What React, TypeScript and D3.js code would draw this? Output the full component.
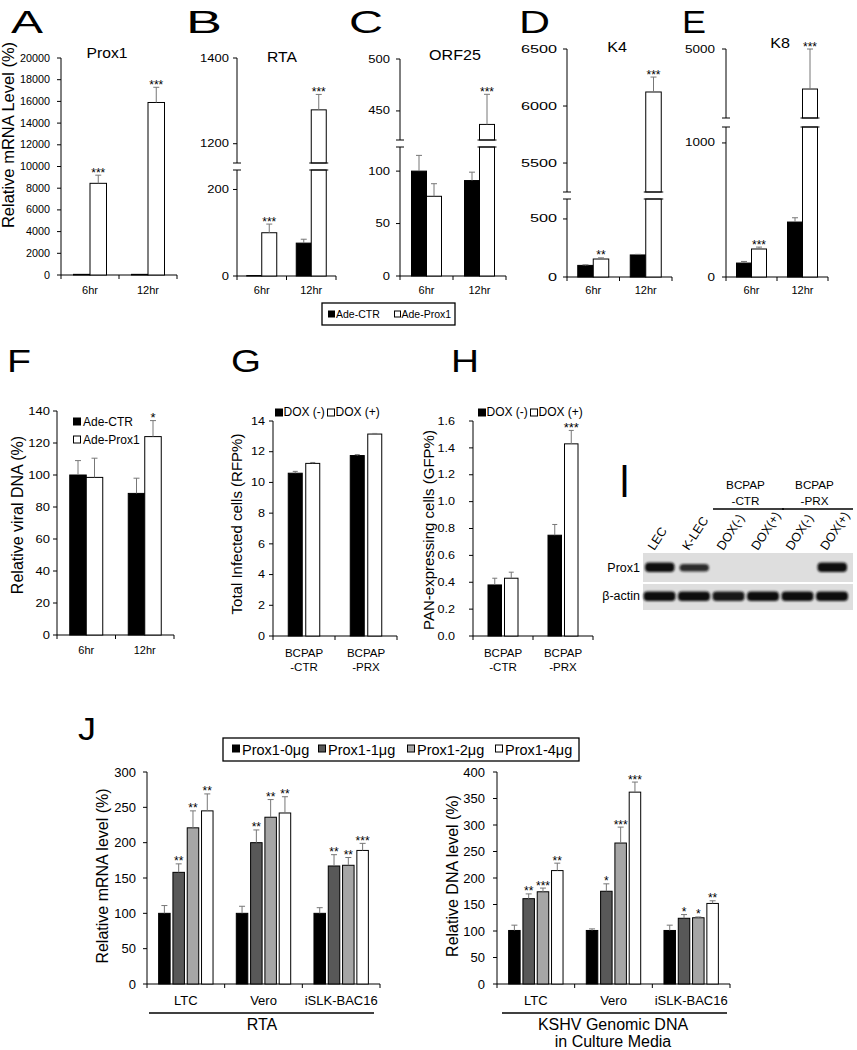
import React from 'react';
import * as d3 from 'd3';

const FONT = "'Liberation Sans', Arial, Helvetica, sans-serif";

// ---------- Top row (A–E) ----------
const timeCats = ['6hr', '12hr'];
const adeSeries = ['Ade-CTR', 'Ade-Prox1'];

const prox1Ctr = [60, 60];
const prox1CtrErr = [0, 0];
const prox1Prox = [8450, 15900];
const prox1ProxErr = [750, 1400];
const prox1Stars = ['***', '***'];

const rtaCtr = [1, 76];
const rtaCtrErr = [0, 9];
const rtaProx = [100, 1279];
const rtaProxErr = [20, 36];
const rtaStars = ['***', '***'];

const orfCtr = [100, 91];
const orfCtrErr = [15, 8];
const orfProx = [76, 437];
const orfProxErr = [12, 29];
const orfStars = ['', '***'];

const k4Ctr = [100, 190];
const k4CtrErr = [5, 5];
const k4Prox = [155, 6123];
const k4ProxErr = [10, 131];
const k4Stars = ['**', '***'];

const k8Ctr = [104, 410];
const k8CtrErr = [12, 32];
const k8Prox = [209, 4710];
const k8ProxErr = [14, 290];
const k8Stars = ['***', '***'];

// ---------- F ----------
const fCtr = [100, 88.5];
const fCtrErr = [9, 9.5];
const fProx = [98.5, 124];
const fProxErr = [12, 10];
const fStars = ['', '*'];

// ---------- G / H ----------
const bcpapCats = ['BCPAP\n-CTR', 'BCPAP\n-PRX'];
const doxSeries = ['DOX (-)', 'DOX (+)'];
const gNeg = [10.6, 11.75];
const gNegErr = [0.12, 0.06];
const gPos = [11.24, 13.15];
const gPosErr = [0.06, 0.04];
const hNeg = [0.38, 0.75];
const hNegErr = [0.05, 0.08];
const hPos = [0.43, 1.43];
const hPosErr = [0.045, 0.1];
const hStars = ['', '***'];

// ---------- I (western blot) ----------
const blotLanes = ['LEC', 'K-LEC', 'DOX(-)', 'DOX(+)', 'DOX(-)', 'DOX(+)'];
const blotGroups = ['BCPAP\n-CTR', 'BCPAP\n-PRX'];
const prox1Band = [1, 0.85, 0, 0, 0, 1];
const actinBand = [1, 1, 0.95, 1, 1, 1];

// ---------- J ----------
const jCats = ['LTC', 'Vero', 'iSLK-BAC16'];
const jSeries = ['Prox1-0\u03bcg', 'Prox1-1\u03bcg', 'Prox1-2\u03bcg', 'Prox1-4\u03bcg'];
const rtaP0 = [100, 100, 100];
const rtaP0Err = [11, 10, 8];
const rtaP1 = [158, 200, 167];
const rtaP1Err = [12, 18, 16];
const rtaP2 = [221, 236, 168];
const rtaP2Err = [24, 25, 11];
const rtaP4 = [245, 242, 189];
const rtaP4Err = [24, 23, 10];
const rtaP1Stars = ['**', '**', '**'];
const rtaP2Stars = ['**', '**', '**'];
const rtaP4Stars = ['**', '**', '***'];

const dnaP0 = [101, 101, 101];
const dnaP0Err = [10, 3, 10];
const dnaP1 = [161, 175, 124];
const dnaP1Err = [9, 14, 7];
const dnaP2 = [174, 266, 125];
const dnaP2Err = [7, 30, 1.5];
const dnaP4 = [214, 362, 152];
const dnaP4Err = [14, 19, 5];
const dnaP1Stars = ['**', '*', '*'];
const dnaP2Stars = ['***', '***', '*'];
const dnaP4Stars = ['**', '***', '**'];

const none3 = ['', '', ''];
const none2 = ['', ''];

// ---------------------------------------------------------
type TxtProps = {
  x: number; y: number; size: number; sx?: number; anchor?: string; rotate?: number;
  children: React.ReactNode; weight?: string | number; fill?: string;
};
function Txt({ x, y, size, sx = 1, anchor = 'start', rotate = 0, children, weight, fill = '#000' }: TxtProps) {
  return (
    <text
      transform={`translate(${x},${y}) scale(${sx},1)${rotate ? ` rotate(${rotate})` : ''}`}
      fontSize={size}
      textAnchor={anchor as any}
      fontFamily={FONT}
      fill={fill}
      fontWeight={weight as any}
    >
      {children}
    </text>
  );
}

type Seg = { d: [number, number]; r: [number, number]; ticks: number[] };
type SeriesDef = { values: number[]; errs: number[]; stars: string[]; fill: string };
type PanelProps = {
  left: number; right: number; base: number; segs: Seg[]; cats: string[]; series: SeriesDef[];
  barW: number; gap: number; tickFont: number; tickSx: number; tickGap: number; fmt: (v: number) => string;
  catFont: number; catY: number; catLineH?: number; starFont: number; capW: number; catSx?: number;
};

function BarPanel(p: PanelProps) {
  const lower = d3.scaleLinear().domain(p.segs[0].d).range(p.segs[0].r);
  const upper = p.segs[1] ? d3.scaleLinear().domain(p.segs[1].d).range(p.segs[1].r) : null;
  const lowMax = p.segs[0].d[1];
  const yOf = (v: number) => (!upper || v <= lowMax ? lower(v) : upper(v));
  const x = d3.scaleBand().domain(p.cats).range([p.left, p.right]);
  const n = p.series.length;
  const groupW = n * p.barW + (n - 1) * p.gap;
  const bounds = p.cats.map((c) => x(c) as number).concat([p.right]);
  const els: React.ReactNode[] = [];
  const gapTop = p.segs[0].r[1];
  const gapBot = upper ? p.segs[1].r[0] : 0;

  p.segs.forEach((s, si) => {
    els.push(<line key={`ax${si}`} x1={p.left} x2={p.left} y1={s.r[0]} y2={s.r[1]} stroke="#000" strokeWidth={1} />);
    const sc = d3.scaleLinear().domain(s.d).range(s.r);
    s.ticks.forEach((t, ti) => {
      const y = sc(t);
      els.push(<line key={`tk${si}_${ti}`} x1={p.left - 4} x2={p.left} y1={y} y2={y} stroke="#000" strokeWidth={1} />);
      els.push(
        <Txt key={`tl${si}_${ti}`} x={p.left - p.tickGap} y={y + p.tickFont * 0.35} size={p.tickFont} sx={p.tickSx} anchor="end">
          {p.fmt(t)}
        </Txt>
      );
    });
  });
  if (upper) {
    [gapTop, gapBot].forEach((y, i) =>
      els.push(<line key={`brk${i}`} x1={p.left - 4} x2={p.left + 4} y1={y} y2={y} stroke="#000" strokeWidth={1} />)
    );
  }
  els.push(<line key="xax" x1={p.left} x2={p.right} y1={p.base} y2={p.base} stroke="#000" strokeWidth={1} />);
  bounds.forEach((b, i) =>
    els.push(<line key={`xt${i}`} x1={b} x2={b} y1={p.base} y2={p.base + 4} stroke="#000" strokeWidth={1} />)
  );

  p.cats.forEach((c, ci) => {
    const cx = (x(c) as number) + x.bandwidth() / 2;
    p.series.forEach((s, si) => {
      const v = s.values[ci];
      const bx = cx - groupW / 2 + si * (p.barW + p.gap);
      const k = `b${ci}_${si}`;
      if (upper && v > lowMax) {
        els.push(<rect key={k + 'l'} x={bx} y={gapTop} width={p.barW} height={p.base - gapTop} fill={s.fill} stroke="#000" strokeWidth={1} />);
        els.push(<rect key={k + 'u'} x={bx} y={upper(v)} width={p.barW} height={gapBot - upper(v)} fill={s.fill} stroke="#000" strokeWidth={1} />);
        els.push(<line key={k + 'g1'} x1={bx - 2} x2={bx + p.barW + 2} y1={gapTop} y2={gapTop} stroke="#000" strokeWidth={1} />);
        els.push(<line key={k + 'g2'} x1={bx - 2} x2={bx + p.barW + 2} y1={gapBot} y2={gapBot} stroke="#000" strokeWidth={1} />);
      } else {
        const y = yOf(v);
        els.push(<rect key={k} x={bx} y={y} width={p.barW} height={Math.max(0, p.base - y)} fill={s.fill} stroke="#000" strokeWidth={1} />);
      }
      const e = s.errs[ci];
      const ex = bx + p.barW / 2;
      const yTop = yOf(v + e);
      if (e > 0) {
        els.push(<line key={k + 'e'} x1={ex} x2={ex} y1={yOf(v)} y2={yTop} stroke="#777" strokeWidth={1} />);
        els.push(<line key={k + 'c'} x1={ex - p.capW} x2={ex + p.capW} y1={yTop} y2={yTop} stroke="#777" strokeWidth={1} />);
      }
      if (s.stars[ci]) {
        els.push(
          <Txt key={k + 's'} x={ex} y={yTop + 1.5} size={p.starFont} anchor="middle">
            {s.stars[ci]}
          </Txt>
        );
      }
    });
    const lines = c.split('\n');
    lines.forEach((ln, li) =>
      els.push(
        <Txt key={`cl${ci}_${li}`} x={cx} y={p.catY + li * (p.catLineH || 14)} size={p.catFont} sx={p.catSx || 1} anchor="middle">
          {ln}
        </Txt>
      )
    );
  });
  return <g>{els}</g>;
}

function Letter({ x, y, ch, w, size = 32, weight }: { x: number; y: number; ch: string; w: number; size?: number; weight?: string }) {
  return (
    <text x={x} y={y} fontSize={size} fontFamily={FONT} fontWeight={weight as any} textLength={w} lengthAdjust="spacingAndGlyphs">
      {ch}
    </text>
  );
}

function Square({ x, y, s, fill }: { x: number; y: number; s: number; fill: string }) {
  return <rect x={x} y={y} width={s} height={s} fill={fill} stroke="#000" strokeWidth={1} />;
}

const fmtInt = (v: number) => d3.format('d')(v);
const fmt1 = (v: number) => d3.format('.1f')(v);

export default function App() {
  const ade = (ctr: number[], ctrE: number[], prox: number[], proxE: number[], stars: string[]): SeriesDef[] => [
    { values: ctr, errs: ctrE, stars: none2, fill: '#000' },
    { values: prox, errs: proxE, stars, fill: '#fff' },
  ];
  const topCommon = { base: 276, cats: timeCats, barW: 15.5, gap: 0, tickFont: 10, tickGap: 10, fmt: fmtInt, catFont: 11, catY: 294, starFont: 12, capW: 3 };

  const jColors = ['#000', '#585858', '#a6a6a6', '#fff'];
  const rtaSeries: SeriesDef[] = [
    { values: rtaP0, errs: rtaP0Err, stars: none3, fill: jColors[0] },
    { values: rtaP1, errs: rtaP1Err, stars: rtaP1Stars, fill: jColors[1] },
    { values: rtaP2, errs: rtaP2Err, stars: rtaP2Stars, fill: jColors[2] },
    { values: rtaP4, errs: rtaP4Err, stars: rtaP4Stars, fill: jColors[3] },
  ];
  const dnaSeries: SeriesDef[] = [
    { values: dnaP0, errs: dnaP0Err, stars: none3, fill: jColors[0] },
    { values: dnaP1, errs: dnaP1Err, stars: dnaP1Stars, fill: jColors[1] },
    { values: dnaP2, errs: dnaP2Err, stars: dnaP2Stars, fill: jColors[2] },
    { values: dnaP4, errs: dnaP4Err, stars: dnaP4Stars, fill: jColors[3] },
  ];

  const lane = d3.scaleBand().domain(blotLanes.map((l, i) => `${i}`)).range([642, 849]);

  return (
    <svg width={857} height={1050} style={{ position: 'absolute', left: 0, top: 0, background: '#fff' }} fontFamily={FONT}>
      <defs>
        <filter id="blur" x="-20%" y="-50%" width="140%" height="200%">
          <feGaussianBlur stdDeviation="1.3" />
        </filter>
      </defs>
      <rect x={0} y={0} width={857} height={1050} fill="#fff" />

      {/* Panel letters */}
      <Letter x={11} y={33} ch="A" w={32} />
      <Letter x={186} y={33} ch="B" w={36} />
      <Letter x={349} y={33} ch="C" w={34} />
      <Letter x={519} y={33} ch="D" w={31} />
      <Letter x={682} y={33} ch="E" w={24} />

      {/* A */}
      <Txt x={107} y={58} size={14} sx={1.12} anchor="middle">Prox1</Txt>
      <Txt x={13.5} y={135} size={16.5} anchor="middle" rotate={-90}>Relative mRNA Level (%)</Txt>
      <BarPanel {...topCommon} left={61} right={177} base={275} tickSx={1.08} tickGap={11}
        segs={[{ d: [0, 20000], r: [275, 58], ticks: d3.range(0, 20001, 2000) }]}
        series={ade(prox1Ctr, prox1CtrErr, prox1Prox, prox1ProxErr, prox1Stars)} barW={16.5} />

      {/* B */}
      <Txt x={282} y={62} size={14} sx={1.12} anchor="middle">RTA</Txt>
      <BarPanel {...topCommon} left={237} right={336} tickSx={1.3} tickGap={8}
        segs={[{ d: [0, 245], r: [276, 170], ticks: [0, 200] }, { d: [1155, 1400], r: [163, 58], ticks: [1200, 1400] }]}
        series={ade(rtaCtr, rtaCtrErr, rtaProx, rtaProxErr, rtaStars)} barW={15} />

      {/* C */}
      <Txt x={455} y={60} size={14} sx={1.15} anchor="middle">ORF25</Txt>
      <BarPanel {...topCommon} left={400} right={506} tickSx={1.3}
        segs={[{ d: [0, 123], r: [276, 147], ticks: [0, 50, 100] }, { d: [422, 500], r: [140, 59], ticks: [450, 500] }]}
        series={ade(orfCtr, orfCtrErr, orfProx, orfProxErr, orfStars)} barW={15} />

      {/* D */}
      <Txt x={617} y={52} size={14} sx={1.15} anchor="middle">K4</Txt>
      <BarPanel {...topCommon} left={567} right={672} base={277} tickSx={1.62}
        segs={[{ d: [0, 672], r: [277, 199], ticks: [0, 500] }, { d: [5246, 6500], r: [192, 49], ticks: [5500, 6000, 6500] }]}
        series={ade(k4Ctr, k4CtrErr, k4Prox, k4ProxErr, k4Stars)} />

      {/* E */}
      <Txt x={780} y={48} size={14} sx={1.15} anchor="middle">K8</Txt>
      <BarPanel {...topCommon} left={726} right={828} base={277} tickSx={1.35} tickGap={11}
        segs={[{ d: [0, 1119], r: [277, 127], ticks: [0, 1000] }, { d: [4500, 5000], r: [118, 49], ticks: [5000] }]}
        series={ade(k8Ctr, k8CtrErr, k8Prox, k8ProxErr, k8Stars)} barW={15} />

      {/* Top legend */}
      <rect x={322} y={303} width={133} height={22} fill="#fff" stroke="#000" strokeWidth={1.3} />
      <Square x={328.5} y={311} s={6} fill="#000" />
      <Txt x={336} y={318} size={10.5}>{adeSeries[0]}</Txt>
      <Square x={394.5} y={311} s={6} fill="#fff" />
      <Txt x={401.5} y={318} size={10.5}>{adeSeries[1]}</Txt>

      {/* F */}
      <Letter x={7} y={372} ch="F" w={24} />
      <Txt x={23} y={515} size={16} anchor="middle" rotate={-90}>Relative viral DNA (%)</Txt>
      <BarPanel left={57} right={174} base={635} cats={timeCats} barW={16.5} gap={0}
        segs={[{ d: [0, 140], r: [635, 411], ticks: d3.range(0, 141, 20) }]}
        series={ade(fCtr, fCtrErr, fProx, fProxErr, fStars)}
        tickFont={10} tickSx={1.3} tickGap={7} fmt={fmtInt} catFont={11} catY={654} starFont={13} capW={3} />
      <Square x={73.5} y={418} s={7} fill="#000" />
      <Txt x={83} y={426} size={12}>{adeSeries[0]}</Txt>
      <Square x={73.5} y={436} s={7} fill="#fff" />
      <Txt x={83} y={444} size={12}>{adeSeries[1]}</Txt>

      {/* G */}
      <Letter x={231} y={372} ch="G" w={30} />
      <Txt x={242} y={524} size={15} anchor="middle" rotate={-90}>Total Infected cells (RFP%)</Txt>
      <BarPanel left={273} right={397} base={636} cats={bcpapCats} barW={14} gap={3.5}
        segs={[{ d: [0, 14], r: [636, 421], ticks: d3.range(0, 15, 2) }]}
        series={[
          { values: gNeg, errs: gNegErr, stars: none2, fill: '#000' },
          { values: gPos, errs: gPosErr, stars: none2, fill: '#fff' },
        ]}
        tickFont={10.5} tickSx={1.2} tickGap={8} fmt={fmtInt} catFont={11} catSx={1.05} catY={657} catLineH={14} starFont={13} capW={2.5} />
      <Square x={275.5} y={409} s={7} fill="#000" />
      <Txt x={283.5} y={416} size={12}>{doxSeries[0]}</Txt>
      <Square x={327.5} y={409} s={7} fill="#fff" />
      <Txt x={335.5} y={416} size={12}>{doxSeries[1]}</Txt>

      {/* H */}
      <Letter x={451} y={372} ch="H" w={28} />
      <Txt x={434} y={530} size={15} anchor="middle" rotate={-90}>PAN-expressing cells (GFP%)</Txt>
      <BarPanel left={473} right={593} base={636} cats={bcpapCats} barW={13.5} gap={3}
        segs={[{ d: [0, 1.6], r: [636, 421], ticks: d3.range(0, 8.5, 1).map((t) => t * 0.2) }]}
        series={[
          { values: hNeg, errs: hNegErr, stars: none2, fill: '#000' },
          { values: hPos, errs: hPosErr, stars: hStars, fill: '#fff' },
        ]}
        tickFont={10.5} tickSx={1.2} tickGap={18} fmt={fmt1} catFont={11} catSx={1.05} catY={657} catLineH={14} starFont={13} capW={2.5} />
      <Square x={478.5} y={409} s={7} fill="#000" />
      <Txt x={486.5} y={416} size={12}>{doxSeries[0]}</Txt>
      <Square x={530.5} y={409} s={7} fill="#fff" />
      <Txt x={538.5} y={416} size={12}>{doxSeries[1]}</Txt>

      {/* I : western blot */}
      <Letter x={621} y={497} ch="I" w={7} size={46} weight="bold" />
      {blotGroups.map((g, gi) => {
        const l0 = lane(`${2 + gi * 2}`) as number;
        const l1 = (lane(`${3 + gi * 2}`) as number) + lane.bandwidth();
        const cx = (l0 + l1) / 2;
        return (
          <g key={`bg${gi}`}>
            {g.split('\n').map((ln, li) => (
              <Txt key={li} x={cx} y={489 + li * 16} size={11.5} sx={1.02} anchor="middle">{ln}</Txt>
            ))}
            <line x1={l0 + 2} x2={l1 + 4} y1={509} y2={509} stroke="#000" strokeWidth={1.3} />
          </g>
        );
      })}
      {blotLanes.map((l, i) => (
        <Txt key={`ln${i}`} x={(lane(`${i}`) as number) + lane.bandwidth() / 2 - 5} y={551} size={12.5} rotate={-57}>{l}</Txt>
      ))}
      <rect x={643} y={553} width={210} height={29} fill="#dedede" />
      <rect x={643} y={584} width={210} height={26} fill="#dedede" />
      <Txt x={640} y={572} size={12.5} anchor="end">Prox1</Txt>
      <Txt x={640} y={600} size={12.5} anchor="end">{'\u03b2-actin'}</Txt>
      {prox1Band.map((v, i) =>
        v > 0 ? (
          <rect key={`pb${i}`} x={(lane(`${i}`) as number) + 3} y={562.5 + (v < 1 ? 1.5 : 0)} width={lane.bandwidth() - 5} height={v < 1 ? 7.5 : 9.5} rx={4}
            fill="#111" opacity={v} filter="url(#blur)" />
        ) : null
      )}
      {actinBand.map((v, i) => (
        <rect key={`ab${i}`} x={(lane(`${i}`) as number) + 1.5} y={591.5} width={lane.bandwidth() - 2.5} height={9.5} rx={4}
          fill="#111" opacity={v} filter="url(#blur)" />
      ))}

      {/* J */}
      <Letter x={78} y={740} ch="J" w={18} />
      <rect x={223} y={738} width={356} height={23} fill="#fff" stroke="#000" strokeWidth={1.3} />
      {jSeries.map((s, i) => {
        const xs = [232, 318, 407, 495][i];
        return (
          <g key={`jl${i}`}>
            <Square x={xs + 0.5} y={745} s={7} fill={jColors[i]} />
            <Txt x={xs + 10} y={755} size={14.5}>{s}</Txt>
          </g>
        );
      })}

      <Txt x={108} y={876} size={16} anchor="middle" rotate={-90}>Relative mRNA level (%)</Txt>
      <BarPanel left={147} right={380} base={984} cats={jCats} barW={11.5} gap={2.8}
        segs={[{ d: [0, 300], r: [984, 772], ticks: d3.range(0, 301, 50) }]}
        series={rtaSeries}
        tickFont={13} tickSx={1} tickGap={11} fmt={fmtInt} catFont={13} catY={1005} starFont={12} capW={3} />
      <line x1={149} x2={374} y1={1013} y2={1013} stroke="#000" strokeWidth={1.5} />
      <Txt x={262} y={1030} size={16} anchor="middle">RTA</Txt>

      <Txt x={458} y={876} size={16} anchor="middle" rotate={-90}>Relative DNA level (%)</Txt>
      <BarPanel left={497} right={730} base={984} cats={jCats} barW={11.5} gap={2.8}
        segs={[{ d: [0, 400], r: [984, 772], ticks: d3.range(0, 401, 50) }]}
        series={dnaSeries}
        tickFont={13} tickSx={1} tickGap={12} fmt={fmtInt} catFont={13} catY={1005} starFont={12} capW={3} />
      <line x1={502} x2={727} y1={1013} y2={1013} stroke="#000" strokeWidth={1.5} />
      <Txt x={613} y={1030} size={16} anchor="middle">KSHV Genomic DNA</Txt>
      <Txt x={613} y={1047} size={16} anchor="middle">in Culture Media</Txt>
    </svg>
  );
}
